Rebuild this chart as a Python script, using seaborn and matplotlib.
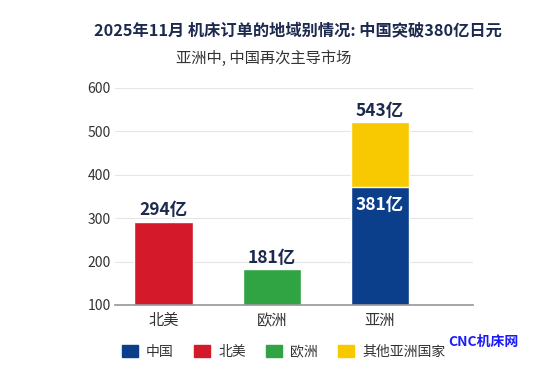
import matplotlib
matplotlib.use("Agg")
import matplotlib.pyplot as plt
import seaborn as sns
import pandas as pd
from matplotlib.patches import Patch

sns.set_theme(style="white")
plt.rcParams['font.family'] = ['Noto Sans CJK SC', 'DejaVu Sans']
plt.rcParams['axes.unicode_minus'] = False

# data
regions = ['北美', '欧洲', '亚洲']
bar_tops = [292, 182, 521]          # full bar heights (亚洲 = 中国 + 其他)
china_part = 371                    # 中国 part of 亚洲 bar
top_labels = ['294亿', '181亿', '543亿']
china_label = '381亿'
legend_names = ['中国', '北美', '欧洲', '其他亚洲国家']

c_china = '#0b3f8c'
c_na = '#d3192a'
c_eu = '#30a343'
c_other = '#f8c900'
navy = '#1c2a4e'

df = pd.DataFrame({'region': regions, 'value': bar_tops})

fig = plt.figure(figsize=(5.53, 3.71), dpi=100)
ax = fig.add_axes([0.208, 0.178, 0.647, 0.585])

sns.barplot(data=df, x='region', y='value', hue='region', order=regions,
            palette=[c_na, c_eu, c_other], width=0.54, legend=False, ax=ax,
            saturation=1)
sns.barplot(x=['亚洲'], y=[china_part], order=regions, color=c_china,
            width=0.54, ax=ax, saturation=1)

ax.set_ylim(100, 600)
ax.set_xlim(-0.45, 2.86)
ax.set_yticks(range(100, 601, 100))
ax.yaxis.grid(True, color='#e6e6e6', linewidth=0.8)
ax.set_axisbelow(True)
for s in ['top', 'right', 'left']:
    ax.spines[s].set_visible(False)
ax.spines['bottom'].set_color('#9a9a9a')
ax.set_xlabel('')
ax.set_ylabel('')
ax.tick_params(axis='y', labelsize=10, colors='#333333', length=0, pad=3)
ax.tick_params(axis='x', labelsize=11, colors='#333333', length=0, pad=5)

# value labels
for i, lab in enumerate(top_labels):
    ax.text(i, bar_tops[i] + 26, lab, ha='center', va='center',
            fontsize=12.5, fontweight='bold', color=navy)
ax.text(2, china_part - 40, china_label, ha='center', va='center',
        fontsize=12.5, fontweight='bold', color='white')

fig.text(0.538, 0.918, '2025年11月 机床订单的地域别情况: 中国突破380亿日元',
         ha='center', va='center', fontsize=11.7, fontweight='bold', color=navy)
fig.text(0.318, 0.842, '亚洲中, 中国再次主导市场', ha='left', va='center',
         fontsize=11, color='#333333')

handles = [Patch(color=c) for c in [c_china, c_na, c_eu, c_other]]
fig.legend(handles, legend_names, loc='center', bbox_to_anchor=(0.513, 0.052),
           ncol=4, frameon=False, fontsize=10, handlelength=1.15,
           handleheight=1.0, columnspacing=1.45, handletextpad=0.6,
           labelcolor='#333333')

fig.text(0.81, 0.077, 'CNC机床网', ha='left', va='center', fontsize=10,
         fontweight='bold', color='#1a1aff')

fig.savefig('out.png', dpi=100, facecolor='white')
